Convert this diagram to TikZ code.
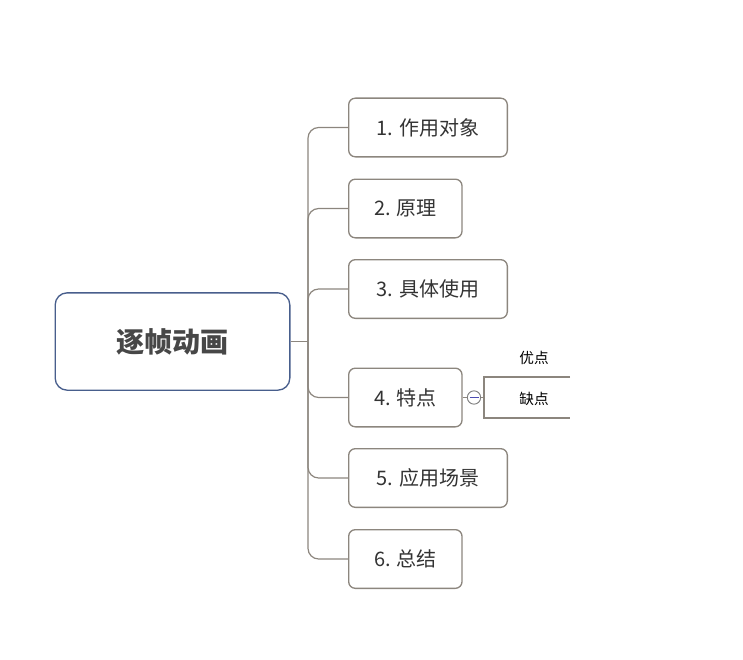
\documentclass[tikz,border=0pt]{standalone}
\usepackage{fontspec}
\setmainfont{Noto Sans CJK SC}
\definecolor{rootline}{RGB}{72,94,140}
\definecolor{boxline}{RGB}{140,134,126}
\begin{document}
\begin{tikzpicture}[x=0.75pt,y=-0.75pt,
	topic/.style={draw=boxline,rounded corners=5pt,line width=1pt,minimum height=44pt,inner xsep=8pt,anchor=west,font=\fontsize{15}{18}\selectfont,text=black!80},
	conn/.style={draw=boxline,line width=0.9pt}]
	\useasboundingbox (0,0) rectangle (743,660);
	\node[draw=rootline,rounded corners=9pt,line width=1pt,minimum width=176pt,minimum height=73pt,font=\bfseries\fontsize{21}{25}\selectfont,text=black!72](root) at(172.5,341.5){逐帧动画};
	\node[topic,minimum width=119pt](t1) at(348,127.5){1. 作用对象};
	\node[topic,minimum width=85pt](t2) at(348,208.5){2. 原理};
	\node[topic,minimum width=119pt](t3) at(348,289){3. 具体使用};
	\node[topic,minimum width=85pt](t4) at(348,397.5){4. 特点};
	\node[topic,minimum width=119pt](t5) at(348,478){5. 应用场景};
	\node[topic,minimum width=85pt](t6) at(348,559){6. 总结};
	\coordinate(hub) at(308,341.5);
	\draw[conn](root.east)--(hub);
	\foreach \t in {t1,t2,t3,t4,t5,t6}
		\draw[conn,rounded corners=8pt](hub)--(hub|-\t.west)--(\t.west);
	\node[circle,draw=gray,line width=0.7pt,minimum size=10pt,inner sep=0pt](fold) at(474,397.5){};
	\draw[blue!40!gray,line width=0.7pt](469.5,397.5)--(478.5,397.5);
	\draw[conn](t4.east)--(fold.west);
	\draw[conn](fold.east)--(484,397.5);
	\draw[conn](570,377)--(484,377)--(484,418)--(570,418);
	\node[font=\fontsize{11}{13}\selectfont](good) at(534,358){优点};
	\node[font=\fontsize{11}{13}\selectfont](bad) at(534,399){缺点};
\end{tikzpicture}
\end{document}
